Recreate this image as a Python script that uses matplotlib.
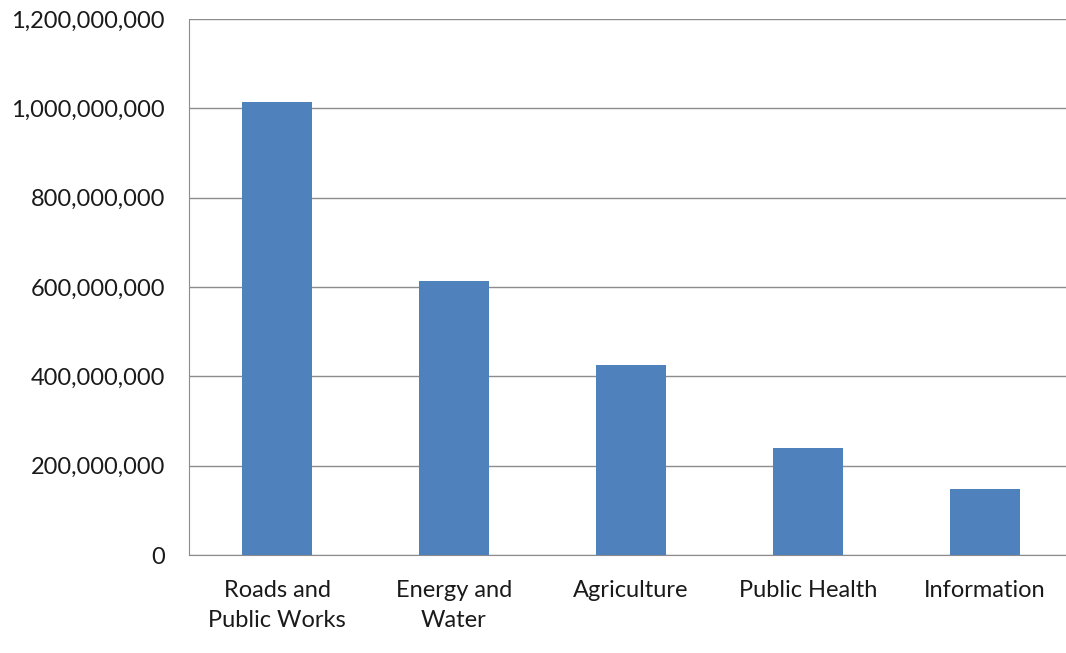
import matplotlib.pyplot as plt
from matplotlib.ticker import FuncFormatter

# --- data ---
categories = ['Roads and\nPublic Works', 'Energy and\nWater', 'Agriculture',
              'Public Health', 'Information']
amounts = [1015000000, 614000000, 426000000, 239000000, 147000000]
y_ticks = [0, 200000000, 400000000, 600000000, 800000000, 1000000000, 1200000000]

plt.rcParams['font.family'] = ['Lato', 'DejaVu Sans']

fig = plt.figure(figsize=(10.66, 6.53), dpi=100)
# plot area runs a bit past the right edge, as in the reference
ax = fig.add_axes([188.5 / 1066, 98 / 653, 885 / 1066, 536 / 653])

x = range(len(categories))
ax.bar(x, amounts, width=0.4, color='#4F81BD', zorder=3)

ax.set_xlim(-0.5, len(categories) - 0.5)
ax.set_ylim(0, 1200000000)
ax.set_yticks(y_ticks)
ax.yaxis.set_major_formatter(FuncFormatter(lambda v, p: f'{int(v):,}'))
ax.set_xticks(list(x))
ax.set_xticklabels(categories, linespacing=1.55)

ax.grid(axis='y', color='#8C8C8C', linewidth=1.0, zorder=0)
for side in ['top', 'right']:
    ax.spines[side].set_visible(False)
ax.spines['left'].set_color('#8C8C8C')
ax.spines['bottom'].set_color('#8C8C8C')
ax.tick_params(axis='both', length=0, labelsize=17, colors='#1a1a1a')
ax.tick_params(axis='y', pad=17)
ax.tick_params(axis='x', pad=18)

fig.savefig('out.png', dpi=100)
